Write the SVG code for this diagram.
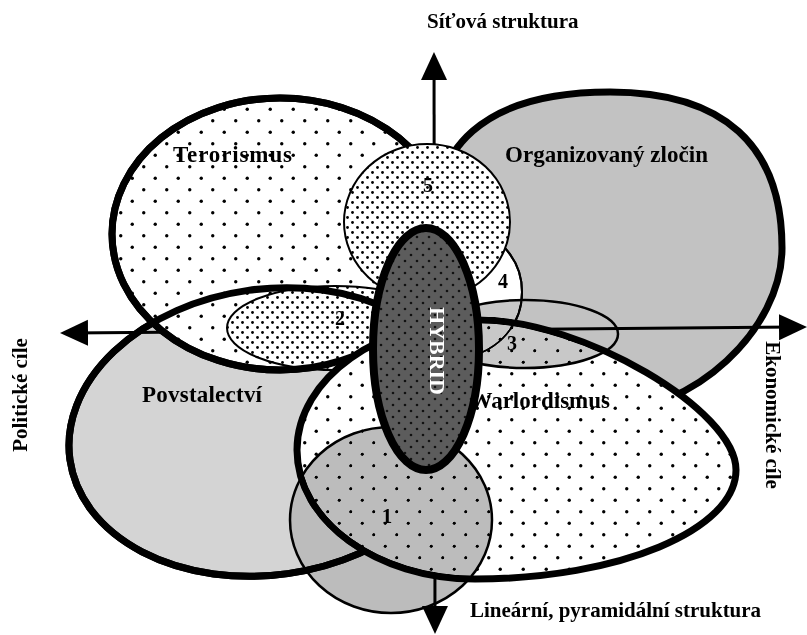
<svg xmlns="http://www.w3.org/2000/svg" xmlns:xlink="http://www.w3.org/1999/xlink" width="807" height="635" viewBox="0 0 807 635">
<style>
text{font-family:"Liberation Serif","Times New Roman",serif;font-weight:bold;fill:#000}
.lbl{font-size:23px}
.num{font-size:20px}
.axl{font-size:21px}
.thick{stroke:#000;stroke-width:7}
.thin{stroke:#000;stroke-width:2}
.hyb{stroke:#000;stroke-width:8}
.nofill{fill:none}
.axis{stroke:#000;stroke-width:3;fill:none;marker-start:url(#arrow);marker-end:url(#arrow)}
.blend{mix-blend-mode:darken}
</style>
<defs>
<marker id="arrow" viewBox="0 0 28 28" refX="18" refY="14" markerWidth="28" markerHeight="28" markerUnits="userSpaceOnUse" orient="auto-start-reverse"><path d="M0,1 L28,14 L0,27 Z" fill="#000"/></marker>
<pattern id="sparse" width="23" height="23" patternUnits="userSpaceOnUse"><rect width="23" height="23" fill="#fff"/><circle cx="5.75" cy="5.75" r="1.7"/><circle cx="17.25" cy="17.25" r="1.7"/></pattern>
<pattern id="dense" width="10" height="10" patternUnits="userSpaceOnUse"><rect width="10" height="10" fill="#fff"/><circle cx="2.5" cy="2.5" r="1.4"/><circle cx="7.5" cy="7.5" r="1.4"/></pattern>
<pattern id="dark" width="12" height="12" patternUnits="userSpaceOnUse"><rect width="12" height="12" fill="#5c5c5c"/><circle cx="3" cy="3" r="1.3" fill="#111"/><circle cx="9" cy="9" r="1.3" fill="#111"/></pattern>
<path id="s-org" d="M428,252 C428,143.2 486.2,92 610,92 C723.5,92 782,145 782,248 C782,330 693.5,412 605,412 C507.6,412 428,340 428,252 Z"/>
<ellipse id="s-ter" cx="280" cy="234" rx="168" ry="136"/>
<ellipse id="s-pov" cx="268" cy="432" rx="200" ry="143" transform="rotate(-8 268 432)"/>
<path id="s-war" d="M297,450 C297,378.5 379.4,320 480,320 C582.4,320 736,410 736,470 C736,530 618.6,579 475,579 C377,579 297,521 297,450 Z"/>
<circle id="s-4" cx="457" cy="292" r="65"/>
</defs>

<g id="organizovany-zlocin">
<use xlink:href="#s-org" href="#s-org" fill="#c2c2c2" class="thick"/>
<text class="lbl" x="505" y="162" textLength="203" lengthAdjust="spacing">Organizovaný zločin</text>
</g>

<g id="povstalectvi">
<use xlink:href="#s-pov" href="#s-pov" fill="#d4d4d4" class="thick"/>
<text class="lbl" x="142" y="402" textLength="120" lengthAdjust="spacing">Povstalectví</text>
</g>

<g id="connectors">
<line class="axis" x1="434" y1="62" x2="435" y2="624"/>
<line class="axis" x1="70" y1="333" x2="797" y2="327"/>
</g>

<g id="terorismus">
<use xlink:href="#s-ter" href="#s-ter" fill="url(#sparse)" class="thick"/>
<text class="lbl" x="173" y="162" textLength="119" lengthAdjust="spacing">Terorismus</text>
</g>

<g id="region-2">
<ellipse cx="335" cy="328" rx="108" ry="42" fill="url(#dense)" class="thin"/>
<text class="num" x="340" y="325" text-anchor="middle">2</text>
</g>

<g id="outlines-upper">
<use xlink:href="#s-pov" href="#s-pov" class="thick nofill"/>
<use xlink:href="#s-ter" href="#s-ter" class="thick nofill"/>
</g>

<g id="region-4">
<use xlink:href="#s-4" href="#s-4" fill="#fff" class="thin"/>
<text class="num" x="503" y="288" text-anchor="middle">4</text>
</g>

<g id="warlordismus">
<use xlink:href="#s-war" href="#s-war" fill="url(#sparse)" class="thick"/>
<text class="lbl" x="610" y="408" text-anchor="end">Warlordismus</text>
</g>

<g id="outline-4">
<use xlink:href="#s-4" href="#s-4" class="thin nofill"/>
</g>

<g id="region-3" class="blend">
<ellipse cx="525" cy="334" rx="93" ry="34" fill="#c8c8c8" stroke="#000" stroke-width="2.5"/>
<text class="num" x="512" y="350" text-anchor="middle">3</text>
</g>

<g id="region-1" class="blend">
<ellipse cx="391" cy="520" rx="101" ry="93" fill="#bcbcbc" stroke="#000" stroke-width="2.5"/>
<text x="387" y="523" text-anchor="middle" font-size="21" font-weight="normal">1</text>
</g>

<g id="region-5">
<ellipse cx="427" cy="222" rx="83" ry="78" fill="url(#dense)" class="thin"/>
<text class="num" x="428" y="192" text-anchor="middle">5</text>
</g>

<g id="hybrid">
<ellipse cx="426" cy="349" rx="53" ry="121" fill="url(#dark)" class="hyb"/>
<text transform="translate(430,351) rotate(90)" text-anchor="middle" font-size="22" style="fill:#fff">HYBRID</text>
</g>

<g id="axis-labels">
<text class="axl" x="427" y="28">Síťová struktura</text>
<text class="axl" x="470" y="617">Lineární, pyramidální struktura</text>
<text class="axl" transform="translate(27,395) rotate(-90)" text-anchor="middle" font-size="22">Politické cíle</text>
<text class="axl" transform="translate(766,415) rotate(90)" text-anchor="middle">Ekonomické cíle</text>
</g>
</svg>
